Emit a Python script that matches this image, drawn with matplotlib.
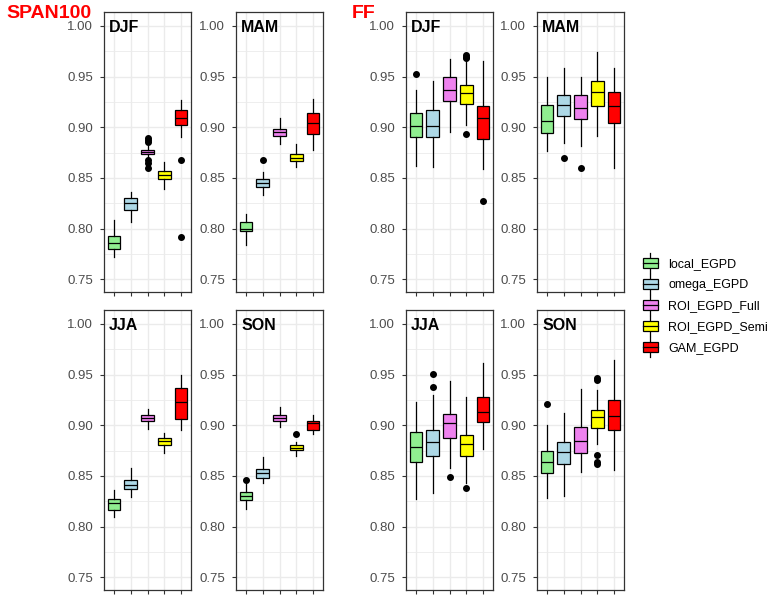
import matplotlib
matplotlib.use("Agg")
import matplotlib.pyplot as plt
from matplotlib.legend_handler import HandlerBase
from matplotlib.patches import Rectangle, Patch
from matplotlib.lines import Line2D

plt.rcParams['font.family'] = ['Liberation Sans', 'DejaVu Sans']

models = ['local_EGPD', 'omega_EGPD', 'ROI_EGPD_Full', 'ROI_EGPD_Semi', 'GAM_EGPD']
colors = ['#90EE90', '#ADD8E6', '#EE82EE', '#FFFF00', '#FF0000']
seasons = ['DJF', 'MAM', 'JJA', 'SON']

# box stats per model: [lower whisker, q1, median, q3, upper whisker]
span_djf = [[0.7724, 0.7803, 0.7856, 0.7925, 0.8083],
            [0.8070, 0.8182, 0.8254, 0.8300, 0.8363],
            [0.8699, 0.8735, 0.8755, 0.8775, 0.8811],
            [0.8396, 0.8488, 0.8534, 0.8567, 0.8656],
            [0.8903, 0.9018, 0.9094, 0.9170, 0.9272]]
span_djf_out = [[], [], [0.8603, 0.8646, 0.8679, 0.8860, 0.8875, 0.8895], [], [0.7915, 0.8676]]

span_mam = [[0.7843, 0.7974, 0.8001, 0.8063, 0.8149],
            [0.8337, 0.8409, 0.8452, 0.8488, 0.8557],
            [0.8831, 0.8913, 0.8953, 0.8982, 0.9088],
            [0.8607, 0.8663, 0.8702, 0.8735, 0.8837],
            [0.8781, 0.8939, 0.9041, 0.9140, 0.9282]]
span_mam_out = [[], [0.8676], [], [], []]

span_jja = [[0.8095, 0.8163, 0.8229, 0.8275, 0.8366],
            [0.8291, 0.8373, 0.8412, 0.8461, 0.8575],
            [0.8964, 0.9039, 0.9072, 0.9098, 0.9160],
            [0.8729, 0.8810, 0.8846, 0.8873, 0.8928],
            [0.8954, 0.9059, 0.9235, 0.9373, 0.9493]]
span_jja_out = [[], [], [], [], []]

span_son = [[0.8170, 0.8265, 0.8301, 0.8340, 0.8425],
            [0.8428, 0.8480, 0.8526, 0.8569, 0.8690],
            [0.8987, 0.9039, 0.9072, 0.9098, 0.9180],
            [0.8693, 0.8755, 0.8781, 0.8804, 0.8837],
            [0.8912, 0.8951, 0.9020, 0.9039, 0.9101]]
span_son_out = [[0.8464], [], [], [0.8912], []]

ff_djf = [[0.8623, 0.8903, 0.9012, 0.9137, 0.9371],
          [0.8613, 0.8903, 0.9012, 0.9170, 0.9460],
          [0.8956, 0.9259, 0.9371, 0.9496, 0.9677],
          [0.9018, 0.9229, 0.9338, 0.9417, 0.9661],
          [0.8584, 0.8883, 0.9091, 0.9209, 0.9658]]
ff_djf_out = [[0.9526], [], [], [0.8933, 0.9685, 0.9695, 0.9710], [0.8271]]

ff_mam = [[0.8762, 0.8943, 0.9061, 0.9219, 0.9499],
          [0.8850, 0.9111, 0.9219, 0.9318, 0.9588],
          [0.8811, 0.9081, 0.9190, 0.9318, 0.9499],
          [0.8916, 0.9206, 0.9348, 0.9460, 0.9740],
          [0.8600, 0.9038, 0.9209, 0.9348, 0.9588]]
ff_mam_out = [[], [0.8702], [0.8597], [], []]

ff_jja = [[0.8271, 0.8637, 0.8791, 0.8938, 0.9229],
          [0.8337, 0.8696, 0.8833, 0.8958, 0.9297],
          [0.8578, 0.8873, 0.9020, 0.9108, 0.9441],
          [0.8431, 0.8696, 0.8814, 0.8902, 0.9281],
          [0.8771, 0.9029, 0.9127, 0.9275, 0.9618]]
ff_jja_out = [[], [0.9382, 0.9510], [0.8490], [0.8382], []]

ff_son = [[0.8284, 0.8529, 0.8637, 0.8745, 0.9003],
          [0.8301, 0.8618, 0.8735, 0.8833, 0.9121],
          [0.8536, 0.8722, 0.8843, 0.8987, 0.9356],
          [0.8817, 0.8971, 0.9078, 0.9147, 0.9350],
          [0.8556, 0.8958, 0.9088, 0.9245, 0.9641]]
ff_son_out = [[0.9206], [], [], [0.8618, 0.8637, 0.8706, 0.9444, 0.9467], []]

panels = [
    (span_djf, span_djf_out, 'DJF', 104, 12),
    (span_mam, span_mam_out, 'MAM', 236, 12),
    (ff_djf, ff_djf_out, 'DJF', 406, 12),
    (ff_mam, ff_mam_out, 'MAM', 537, 12),
    (span_jja, span_jja_out, 'JJA', 104, 310),
    (span_son, span_son_out, 'SON', 236, 310),
    (ff_jja, ff_jja_out, 'JJA', 406, 310),
    (ff_son, ff_son_out, 'SON', 537, 310),
]

W, H = 774, 601
fig = plt.figure(figsize=(W / 100, H / 100), dpi=100)

for stats, outs, season, px, py in panels:
    ax = fig.add_axes([px / W, 1 - (py + 280) / H, 87 / W, 280 / H])
    bxp_stats = []
    for s, o in zip(stats, outs):
        bxp_stats.append(dict(whislo=s[0], q1=s[1], med=s[2], q3=s[3], whishi=s[4], fliers=o))
    res = ax.bxp(bxp_stats, positions=range(1, 6), widths=0.75, showcaps=False,
                 patch_artist=True,
                 boxprops=dict(edgecolor='black', linewidth=0.9),
                 medianprops=dict(color='black', linewidth=0.9),
                 whiskerprops=dict(color='black', linewidth=0.9),
                 flierprops=dict(marker='o', markerfacecolor='black', markeredgecolor='black',
                                 markersize=4, linestyle='none'))
    for b, c in zip(res['boxes'], colors):
        b.set_facecolor(c)
    ax.set_xlim(0.4, 5.6)
    ax.set_ylim(0.7375, 1.0138)
    ax.set_xticks(range(1, 6))
    ax.set_xticklabels([])
    ax.set_yticks([0.75, 0.80, 0.85, 0.90, 0.95, 1.00])
    ax.set_yticklabels(['0.75', '0.80', '0.85', '0.90', '0.95', '1.00'])
    ax.set_yticks([0.775, 0.825, 0.875, 0.925, 0.975], minor=True)
    ax.grid(True, which='major', color='#EBEBEB', linewidth=1.0, zorder=0)
    ax.grid(True, which='minor', axis='y', color='#EBEBEB', linewidth=0.6, zorder=0)
    ax.set_axisbelow(True)
    ax.tick_params(axis='both', which='major', length=3, color='#333333', width=0.8,
                   labelsize=9.5, labelcolor='#4D4D4D', pad=5)
    ax.tick_params(axis='y', which='minor', length=0)
    for sp in ax.spines.values():
        sp.set_color('#333333')
        sp.set_linewidth(0.9)
    ax.text(0.06, 0.97, season, transform=ax.transAxes, ha='left', va='top',
            fontsize=11.5, fontweight='bold', color='black')

fig.text(6 / W, 1 - 5 / H, 'SPAN100', color='red', fontsize=14, fontweight='bold', ha='left', va='top')
fig.text(352 / W, 1 - 5 / H, 'FF', color='red', fontsize=14, fontweight='bold', ha='left', va='top')


class BoxKey(HandlerBase):
    def create_artists(self, legend, orig_handle, xdescent, ydescent, width, height, fontsize, trans):
        x0, y0 = -xdescent, -ydescent
        cx = x0 + width / 2
        bw = width * 0.8
        bh = height * 0.7
        by = y0 + (height - bh) / 2
        wl = Line2D([cx, cx], [y0 - 2, y0 + height + 2], color='black', lw=0.9, transform=trans)
        r = Rectangle((cx - bw / 2, by), bw, bh, facecolor=orig_handle.get_facecolor(),
                      edgecolor='black', lw=0.9, transform=trans)
        ml = Line2D([cx - bw / 2, cx + bw / 2], [by + bh / 2, by + bh / 2], color='black', lw=0.9,
                    transform=trans)
        return [wl, r, ml]


handles = [Patch(facecolor=c) for c in colors]
fig.legend(handles, models, handler_map={Patch: BoxKey()}, loc='center left',
           bbox_to_anchor=(632 / W, 1 - 305 / H), frameon=False, fontsize=9,
           handlelength=1.5, handleheight=1.45, labelspacing=0.5, handletextpad=0.7,
           borderpad=0.2)

fig.savefig('out.png', dpi=100)
